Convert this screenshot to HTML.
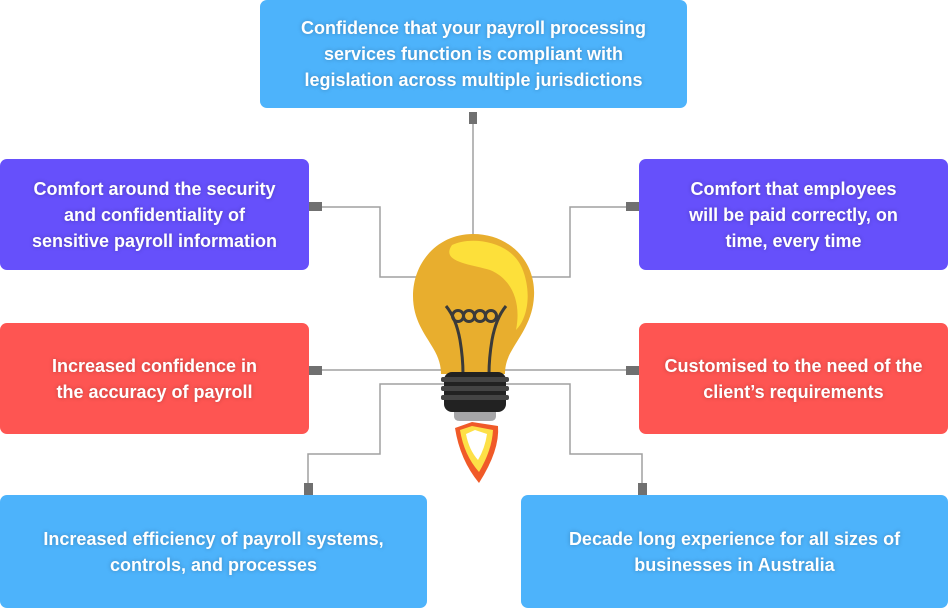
<!DOCTYPE html>
<html><head><meta charset="utf-8"><style>
body{margin:0;width:948px;height:608px;background:#fff;position:relative;overflow:hidden;font-family:"Liberation Sans",sans-serif}
.b{position:absolute;border-radius:7px;display:flex;align-items:center;justify-content:center;text-align:center;color:#fff;font-weight:bold;font-size:18px;line-height:26px;text-shadow:0 0 4px rgba(0,0,0,.25)}
.bl{background:#4db3fb}.pu{background:#6650fb}.rd{background:#fe5552}
svg{position:absolute;left:0;top:0}
</style></head><body>
<svg width="948" height="608" viewBox="0 0 948 608">
<g fill="none" stroke="#a0a0a0" stroke-width="1.5">
<path d="M473 118V236"/>
<path d="M316 207H380V277H420"/>
<path d="M632 207H570V277H528"/>
<path d="M316 370H450"/>
<path d="M632 370H496"/>
<path d="M450 384H380V454H308V488"/>
<path d="M496 384H570V454H642V488"/>
</g>
<g fill="#707070">
<rect x="469" y="112" width="8" height="12"/>
<rect x="309" y="202" width="13" height="9"/>
<rect x="626" y="202" width="13" height="9"/>
<rect x="309" y="366" width="13" height="9"/>
<rect x="626" y="366" width="13" height="9"/>
<rect x="304" y="483" width="9" height="12"/>
<rect x="638" y="483" width="9" height="12"/>
</g>
<!-- flame -->
<path d="M455 428 L472 422 L498 426 Q500 450 479 483 Q460 460 455 428Z" fill="#f05a28"/>
<path d="M460 430 L472 426 L493 430 Q492 450 479 472 Q464 455 460 430Z" fill="#fde047"/>
<path d="M466 434 L475 430 L487 434 Q485 448 478 460 Q469 450 466 434Z" fill="#fff"/>
<!-- bulb -->
<path d="M473 234 C510 234 536 262 534 296 C533 320 520 336 512 350 C506 360 505 368 505 374 H441 C441 366 439 358 433 348 C425 334 413 320 413 296 C413 262 438 234 473 234Z" fill="#e8ae2e"/>
<path d="M452 245 C470 236 510 240 522 268 C532 292 528 318 516 330 C522 300 510 278 490 270 C470 264 440 262 452 245Z" fill="#fde03a"/>
<g fill="none" stroke="#3a3a3a" stroke-width="3">
<path d="M446 306 Q456 318 460 340 Q463 358 463 374 M506 306 Q496 318 492 340 Q489 358 489 374"/>
<circle cx="458" cy="316" r="5.5"/>
<circle cx="469" cy="316" r="5.5"/>
<circle cx="480" cy="316" r="5.5"/>
<circle cx="491" cy="316" r="5.5"/>
</g>
<rect x="444" y="372" width="62" height="40" rx="8" fill="#222"/>
<rect x="441" y="377" width="68" height="5" rx="2" fill="#444"/>
<rect x="441" y="386" width="68" height="5" rx="2" fill="#444"/>
<rect x="441" y="395" width="68" height="5" rx="2" fill="#444"/>
<path d="M454 412 H496 V416 Q496 421 490 421 H460 Q454 421 454 416Z" fill="#a6a6a8"/>
</svg>
<div class="b bl" style="left:260px;top:0;width:427px;height:108px">Confidence that your payroll processing<br>services function is compliant with<br>legislation across multiple jurisdictions</div>
<div class="b pu" style="left:0;top:159px;width:309px;height:111px">Comfort around the security<br>and confidentiality of<br>sensitive payroll information</div>
<div class="b pu" style="left:639px;top:159px;width:309px;height:111px">Comfort that employees<br>will be paid correctly, on<br>time, every time</div>
<div class="b rd" style="left:0;top:323px;width:309px;height:111px">Increased confidence in<br>the accuracy of payroll</div>
<div class="b rd" style="left:639px;top:323px;width:309px;height:111px">Customised to the need of the<br>client’s requirements</div>
<div class="b bl" style="left:0;top:495px;width:427px;height:113px">Increased efficiency of payroll systems,<br>controls, and processes</div>
<div class="b bl" style="left:521px;top:495px;width:427px;height:113px">Decade long experience for all sizes of<br>businesses in Australia</div>
</body></html>
